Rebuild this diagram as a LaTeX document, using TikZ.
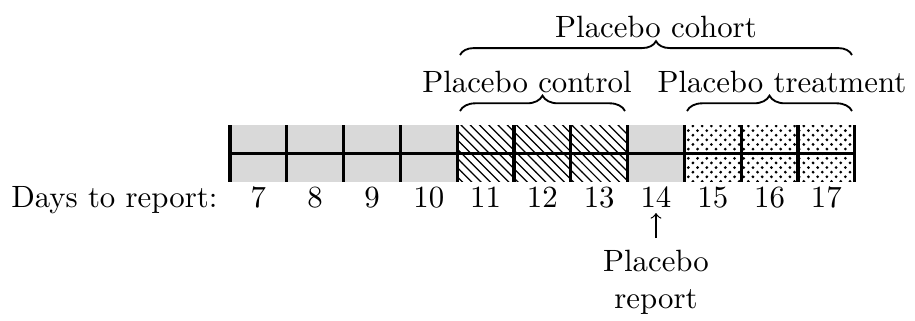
\documentclass[tikz,border=0pt]{standalone}
\usetikzlibrary{patterns,decorations.pathreplacing}
\begin{document}
\begin{tikzpicture}[x=0.3247pt,y=-0.3247pt,
 cell/.style={minimum width=18.44pt,minimum height=18.5pt,inner sep=0pt,outer sep=0pt,anchor=west},
 grayc/.style={cell,fill=gray!30},
 hatchc/.style={cell,pattern=north west lines},
 dotc/.style={cell,pattern=crosshatch dots},
 gridline/.style={line width=1pt},
 brc/.style={decorate,decoration={brace,amplitude=5pt},line width=0.6pt},
 lbl/.style={anchor=base,inner sep=0pt},
]
\useasboundingbox (0,0) rectangle (915,320);
% cells
\node[grayc]  (c7)  at (230.0,153.5) {};
\node[grayc]  (c8)  at (286.8,153.5) {};
\node[grayc]  (c9)  at (343.6,153.5) {};
\node[grayc]  (c10) at (400.4,153.5) {};
\node[hatchc] (c11) at (457.2,153.5) {};
\node[hatchc] (c12) at (514.0,153.5) {};
\node[hatchc] (c13) at (570.8,153.5) {};
\node[grayc]  (c14) at (627.6,153.5) {};
\node[dotc]   (c15) at (684.4,153.5) {};
\node[dotc]   (c16) at (741.2,153.5) {};
\node[dotc]   (c17) at (798.0,153.5) {};
% grid lines
\foreach \i in {7,...,17} \draw[gridline] (c\i.north west) -- (c\i.south west);
\draw[gridline] (c17.north east) -- (c17.south east);
\draw[gridline] (c7.west) -- (c17.east);
% day numbers
\coordinate (numrow) at (0,207);
\node[lbl,anchor=base east] (days) at (218,207) {Days to report:};
\foreach \i in {7,...,17} \node[lbl] (n\i) at (c\i |- numrow) {\i};
% placebo report
\node[align=center,anchor=north,inner sep=0pt] (rep) at (656,250) {Placebo\\report};
\coordinate (arrtail) at (656,238);
\coordinate (arrhead) at (656,213);
\draw[->] (arrtail) -- (arrhead);
% braces
\coordinate (bc1) at (460,111);
\coordinate (bc2) at (625,111);
\coordinate (bt1) at (687,111);
\coordinate (bt2) at (852,111);
\coordinate (bh1) at (460,55);
\coordinate (bh2) at (852,55);
\draw[brc] (bc1) -- (bc2);
\draw[brc] (bt1) -- (bt2);
\draw[brc,decoration={amplitude=4.5pt}] (bh1) -- (bh2);
\node[lbl] (ctrl) at (527,92) {Placebo control};
\node[lbl] (trt) at (782,92) {Placebo treatment};
\node[lbl] (coh) at (656,37) {Placebo cohort};
\end{tikzpicture}
\end{document}
